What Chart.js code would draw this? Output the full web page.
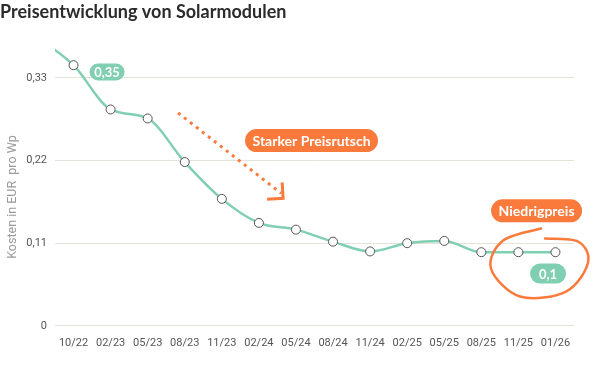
<!DOCTYPE html>
<html>
<head>
<meta charset="utf-8">
<script src="https://cdn.jsdelivr.net/npm/chart.js@4/dist/chart.umd.min.js"></script>
<style>
  html, body { margin: 0; padding: 0; background: #ffffff; }
  #wrap { width: 600px; height: 365px; position: relative; }
</style>
</head>
<body>
<div id="wrap"><canvas id="c" width="600" height="365"></canvas></div>
<script>
// ---- data ----
const months = ['07/22','10/22','02/23','05/23','08/23','11/23','02/24','05/24','08/24','11/24','02/25','05/25','08/25','11/25','01/26'];
const prices = [0.385, 0.347, 0.288, 0.276, 0.218, 0.169, 0.137, 0.128, 0.112, 0.099, 0.110, 0.113, 0.098, 0.098, 0.098];
const yTickValues = [0, 0.11, 0.22, 0.33];
const chartTitle = 'Preisentwicklung von Solarmodulen';
const yAxisTitle = 'Kosten in EUR  pro Wp';

// badges: text, anchor (category index, value)
const badgeTexts = ['0,35', '0,1', 'Starker Preisrutsch', 'Niedrigpreis'];
const badgeAnchorX = [1.904, 13.80, 7.42, 13.49];
const badgeAnchorY = [0.338, 0.0695, 0.2466, 0.153];

const GREEN = '#80cfb2';
const ORANGE = '#fa7a3c';
const badgeStyle = [
  {w: 35, h: 17, color: GREEN, font: 'bold 13px Lato'},
  {w: 36, h: 20, color: GREEN, font: 'bold 13px Lato'},
  {w: 133, h: 23, color: ORANGE, font: 'bold 14px Lato'},
  {w: 91, h: 23, color: ORANGE, font: 'bold 14px Lato'}
];

function roundRect(ctx, x, y, w, h, r) {
  ctx.beginPath();
  ctx.moveTo(x + r, y);
  ctx.lineTo(x + w - r, y);
  ctx.arc(x + w - r, y + r, r, -Math.PI / 2, 0);
  ctx.lineTo(x + w, y + h - r);
  ctx.arc(x + w - r, y + h - r, r, 0, Math.PI / 2);
  ctx.lineTo(x + r, y + h);
  ctx.arc(x + r, y + h - r, r, Math.PI / 2, Math.PI);
  ctx.lineTo(x, y + r);
  ctx.arc(x + r, y + r, r, Math.PI, Math.PI * 1.5);
  ctx.closePath();
}

const annotations = {
  id: 'annotations',
  afterDatasetsDraw(chart) {
    const {ctx, scales: {x, y}} = chart;
    ctx.save();
    // dotted arrow
    const sx = x.getPixelForValue(3.82), sy = y.getPixelForValue(0.2834);
    const ex = x.getPixelForValue(6.60), ey = y.getPixelForValue(0.1764);
    ctx.strokeStyle = ORANGE;
    ctx.lineWidth = 3;
    ctx.setLineDash([3, 4.6]);
    ctx.beginPath();
    ctx.moveTo(sx, sy);
    ctx.lineTo(ex, ey);
    ctx.stroke();
    ctx.setLineDash([]);
    const cx0 = ex + 2, cy0 = ey + 5;
    ctx.beginPath();
    ctx.moveTo(cx0 - 16, cy0 + 1);
    ctx.lineTo(cx0, cy0);
    ctx.lineTo(cx0 - 1, cy0 - 16);
    ctx.stroke();

    // hand drawn circle
    const ccx = x.getPixelForValue(13.584), ccy = y.getPixelForValue(0.0829);
    const off = [[1,-35],[-37,-23],[-49,5],[-20,33],[26,28],[48,-1],[38,-22],[5,-25]];
    const pts = off.map(p => [ccx + p[0], ccy + p[1]]);
    ctx.lineWidth = 2.5;
    ctx.lineCap = 'round';
    ctx.beginPath();
    ctx.moveTo(pts[0][0], pts[0][1]);
    for (let i = 0; i < pts.length - 1; i++) {
      const p0 = pts[Math.max(i - 1, 0)], p1 = pts[i], p2 = pts[i + 1], p3 = pts[Math.min(i + 2, pts.length - 1)];
      const c1x = p1[0] + (p2[0] - p0[0]) / 6, c1y = p1[1] + (p2[1] - p0[1]) / 6;
      const c2x = p2[0] - (p3[0] - p1[0]) / 6, c2y = p2[1] - (p3[1] - p1[1]) / 6;
      ctx.bezierCurveTo(c1x, c1y, c2x, c2y, p2[0], p2[1]);
    }
    ctx.stroke();

    // badges
    badgeTexts.forEach((t, i) => {
      const st = badgeStyle[i];
      const bx = x.getPixelForValue(badgeAnchorX[i]);
      const by = y.getPixelForValue(badgeAnchorY[i]);
      ctx.fillStyle = st.color;
      roundRect(ctx, bx - st.w / 2, by - st.h / 2, st.w, st.h, st.h / 2);
      ctx.fill();
      ctx.fillStyle = '#ffffff';
      ctx.font = st.font;
      ctx.textAlign = 'center';
      ctx.textBaseline = 'middle';
      ctx.fillText(t, bx, by + 1);
    });
    ctx.restore();
  },
  afterDraw(chart) {
    const {ctx} = chart;
    ctx.save();
    ctx.translate(13, 197);
    ctx.rotate(-Math.PI / 2);
    ctx.font = '12.5px Roboto';
    ctx.fillStyle = '#9a9a9a';
    ctx.textAlign = 'center';
    ctx.textBaseline = 'middle';
    ctx.fillText(yAxisTitle, 0, 0);
    ctx.restore();
  }
};

new Chart(document.getElementById('c'), {
  type: 'line',
  data: {
    labels: months,
    datasets: [{
      data: prices,
      borderColor: GREEN,
      borderWidth: 2.5,
      cubicInterpolationMode: 'monotone',
      pointRadius: 4.5,
      pointBackgroundColor: '#ffffff',
      pointBorderColor: '#555555',
      pointBorderWidth: 1,
      clip: {left: 0, top: 2, right: 2, bottom: 2}
    }]
  },
  options: {
    responsive: false,
    animation: false,
    events: [],
    layout: {padding: {left: 0, right: 26, top: 0, bottom: 4}},
    plugins: {
      legend: {display: false},
      tooltip: {enabled: false},
      title: {
        display: true,
        text: chartTitle,
        align: 'start',
        color: '#2b2b2b',
        font: {family: 'Lato', size: 18, weight: 'bold'},
        padding: {top: 1, bottom: 14}
      }
    },
    scales: {
      x: {
        min: '10/22',
        offset: true,
        grid: {display: false, drawTicks: false},
        border: {display: false},
        ticks: {color: '#555', font: {family: 'Roboto', size: 11}, padding: 11, maxRotation: 0, autoSkip: false}
      },
      y: {
        min: 0,
        max: 0.385,
        afterBuildTicks: s => { s.ticks = yTickValues.map(v => ({value: v})); },
        afterFit: s => { s.width = 55; },
        grid: {color: '#e4e2d9', lineWidth: 1, drawTicks: false},
        border: {display: false},
        ticks: {
          color: '#555', font: {family: 'Roboto', size: 11}, padding: 8,
          callback: v => String(v).replace('.', ',')
        }
      }
    }
  },
  plugins: [annotations]
});
</script>
</body>
</html>
